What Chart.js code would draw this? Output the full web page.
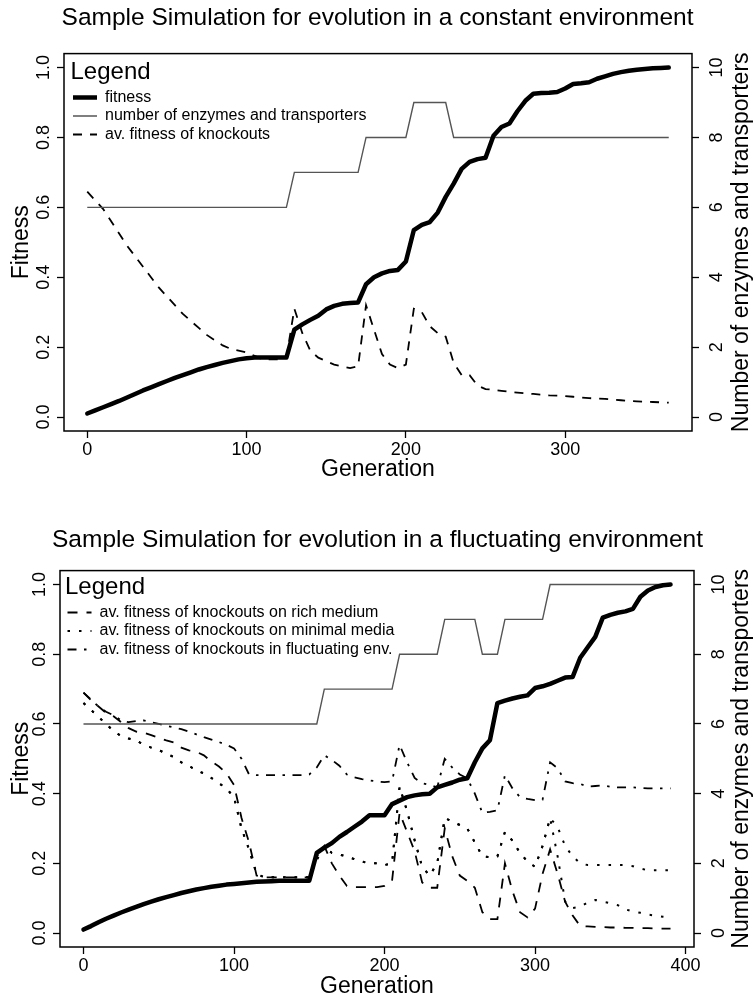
<!DOCTYPE html>
<html><head><meta charset="utf-8">
<script src="https://cdn.jsdelivr.net/npm/chart.js@4.4.0/dist/chart.umd.min.js"></script>
<style>
html,body{margin:0;padding:0;background:#fff;}
#wrap{position:relative;width:755px;height:998px;background:#fff;}
.panel{position:absolute;left:0;width:755px;height:499px;}
</style></head><body>
<div id="wrap">
<div class="panel" style="top:0"><canvas id="c1"></canvas></div>
<div class="panel" style="top:499px"><canvas id="c2"></canvas></div>
</div>
<script>
const FONT = "'Liberation Sans', Arial, Helvetica, sans-serif";

const titleTop = 'Sample Simulation for evolution in a constant environment';
const titleBottom = 'Sample Simulation for evolution in a fluctuating environment';
const xTitle = 'Generation';
const yLeftTitle = 'Fitness';
const yRightTitle = 'Number of enzymes and transporters';
const legendTitle = 'Legend';
const xTicksTop = [0, 100, 200, 300];
const xTicksBottom = [0, 100, 200, 300, 400];
const yLeftTicks = [0, 0.2, 0.4, 0.6, 0.8, 1.0];
const yRightTicks = [0, 2, 4, 6, 8, 10];

// ---------- top panel: constant environment ----------
const gensTop = [0,5,10,15,20,25,30,35,40,45,50,55,60,65,70,75,80,85,90,95,
  100,105,110,115,120,125,130,135,140,145,150,155,160,165,170,175,180,185,190,195,
  200,205,210,215,220,225,230,235,240,245,250,255,260,265,270,275,280,285,290,295,
  300,305,310,315,320,325,330,335,340,345,350,355,360,365];
const fitnessTop = [0.010,0.019,0.028,0.037,0.046,0.056,0.066,0.076,0.085,0.094,
  0.103,0.112,0.120,0.128,0.136,0.143,0.149,0.155,0.160,0.165,
  0.168,0.170,0.170,0.170,0.170,0.170,0.250,0.265,0.278,0.290,
  0.308,0.318,0.324,0.326,0.328,0.380,0.400,0.411,0.418,0.421,
  0.445,0.535,0.550,0.558,0.585,0.630,0.668,0.710,0.730,0.738,
  0.742,0.805,0.830,0.840,0.875,0.905,0.925,0.927,0.928,0.930,
  0.940,0.953,0.955,0.958,0.968,0.975,0.982,0.987,0.991,0.994,
  0.996,0.998,0.999,1.000];
const enzymesTop = [6,6,6,6,6,6,6,6,6,6,6,6,6,6,6,6,6,6,6,6,
  6,6,6,6,6,6,7,7,7,7,7,7,7,7,7,8,8,8,8,8,
  8,9,9,9,9,9,8,8,8,8,8,8,8,8,8,8,8,8,8,8,
  8,8,8,8,8,8,8,8,8,8,8,8,8,8];
const knockoutsTop = [0.645,0.620,0.595,0.560,0.525,0.490,0.460,0.430,0.400,0.370,
  0.345,0.320,0.295,0.275,0.255,0.235,0.220,0.205,0.195,0.190,
  0.185,0.175,0.165,0.165,0.165,0.170,0.310,0.240,0.190,0.170,
  0.160,0.150,0.145,0.140,0.145,0.320,0.250,0.180,0.150,0.140,
  0.150,0.310,0.300,0.260,0.240,0.230,0.155,0.120,0.120,0.090,
  0.080,0.078,0.075,0.072,0.070,0.068,0.066,0.064,0.062,0.061,
  0.060,0.058,0.056,0.054,0.053,0.052,0.050,0.048,0.046,0.045,
  0.044,0.043,0.042,0.041];

// ---------- bottom panel: fluctuating environment ----------
const gensBottom = [0,5,10,15,20,25,30,35,40,45,50,55,60,65,70,75,80,85,90,95,
  100,105,110,115,120,125,130,135,140,145,150,155,160,165,170,175,180,185,190,195,
  200,205,210,215,220,225,230,235,240,245,250,255,260,265,270,275,280,285,290,295,
  300,305,310,315,320,325,330,335,340,345,350,355,360,365,370,375,380,385,390];
const fitnessBottom = [0.010,0.020,0.031,0.041,0.050,0.059,0.067,0.075,0.083,0.090,
  0.097,0.103,0.109,0.115,0.120,0.125,0.129,0.133,0.136,0.139,
  0.141,0.143,0.145,0.147,0.148,0.149,0.150,0.150,0.150,0.150,
  0.150,0.230,0.245,0.258,0.276,0.290,0.305,0.320,0.338,0.338,
  0.338,0.370,0.380,0.390,0.395,0.398,0.400,0.418,0.425,0.432,
  0.440,0.444,0.490,0.530,0.553,0.660,0.667,0.673,0.678,0.682,
  0.703,0.708,0.715,0.724,0.733,0.735,0.790,0.820,0.850,0.905,
  0.913,0.919,0.923,0.930,0.965,0.983,0.993,0.998,1.000];
const enzymesBottom = [6,6,6,6,6,6,6,6,6,6,6,6,6,6,6,6,6,6,6,6,
  6,6,6,6,6,6,6,6,6,6,6,6,7,7,7,7,7,7,7,7,
  7,7,8,8,8,8,8,8,9,9,9,9,9,8,8,8,9,9,9,9,
  9,9,10,10,10,10,10,10,10,10,10,10,10,10,10,10,10,10,10];
const richBottom = [0.690,0.668,0.650,0.632,0.622,0.605,0.588,0.578,0.575,0.568,
  0.560,0.553,0.547,0.532,0.524,0.520,0.510,0.492,0.478,0.458,
  0.425,0.330,0.260,0.165,0.160,0.160,0.160,0.160,0.160,0.160,
  0.160,0.220,0.250,0.200,0.165,0.135,0.132,0.132,0.132,0.132,
  0.135,0.150,0.345,0.290,0.235,0.145,0.130,0.130,0.300,0.220,
  0.165,0.150,0.130,0.060,0.040,0.040,0.200,0.120,0.060,0.045,
  0.070,0.170,0.240,0.170,0.090,0.050,0.020,0.019,0.018,0.017,
  0.016,0.016,0.015,0.015,0.014,0.014,0.013,0.013,0.013];
const minimalBottom = [0.660,0.640,0.620,0.600,0.580,0.565,0.558,0.553,0.540,0.532,
  0.525,0.515,0.505,0.490,0.480,0.467,0.458,0.445,0.430,0.415,
  0.390,0.300,0.240,0.170,0.160,0.160,0.160,0.160,0.160,0.160,
  0.160,0.210,0.250,0.230,0.225,0.220,0.212,0.205,0.200,0.200,
  0.195,0.200,0.420,0.350,0.266,0.190,0.165,0.200,0.330,0.320,
  0.310,0.300,0.260,0.220,0.218,0.220,0.290,0.265,0.230,0.205,
  0.190,0.250,0.330,0.304,0.250,0.220,0.200,0.195,0.195,0.195,
  0.195,0.195,0.195,0.192,0.185,0.180,0.180,0.180,0.180];
// second dotted trace, coincident with the minimal-media trace until it splits off near gen 315
const minimalLowBottom = [0.660,0.640,0.620,0.600,0.580,0.565,0.558,0.553,0.540,0.532,
  0.525,0.515,0.505,0.490,0.480,0.467,0.458,0.445,0.430,0.415,
  0.390,0.300,0.240,0.170,0.160,0.160,0.160,0.160,0.160,0.160,
  0.160,0.210,0.250,0.230,0.225,0.220,0.212,0.205,0.200,0.200,
  0.195,0.200,0.420,0.350,0.266,0.190,0.165,0.200,0.330,0.320,
  0.310,0.300,0.260,0.220,0.218,0.220,0.290,0.265,0.230,0.205,
  0.190,0.250,0.330,0.220,0.090,0.072,0.075,0.088,0.095,0.090,
  0.086,0.080,0.068,0.062,0.058,0.053,0.050,0.047,0.045];
const fluctBottom = [0.690,0.670,0.650,0.635,0.625,0.610,0.605,0.608,0.610,0.605,
  0.600,0.595,0.590,0.585,0.578,0.570,0.562,0.555,0.548,0.540,
  0.530,0.500,0.455,0.453,0.453,0.453,0.453,0.453,0.453,0.453,
  0.455,0.475,0.510,0.497,0.480,0.455,0.447,0.442,0.438,0.435,
  0.433,0.435,0.540,0.490,0.445,0.430,0.425,0.418,0.500,0.475,
  0.455,0.444,0.400,0.345,0.348,0.352,0.453,0.415,0.390,0.385,
  0.381,0.383,0.490,0.473,0.435,0.430,0.428,0.420,0.422,0.424,
  0.420,0.418,0.418,0.418,0.416,0.415,0.415,0.415,0.415];

function pts(xs, ys) { return xs.map((x, i) => ({x: x, y: ys[i]})); }

const framePlugin = {
  id: 'frame',
  afterLayout(chart) {
    const lg = chart.legend, a = chart.chartArea, o = chart.options.plugins.frame;
    if (lg) { lg.left = a.left + o.legendDx; lg.right = lg.left + lg.width; lg.top = a.top; lg.bottom = a.bottom; }
  },
  afterDraw(chart) {
    const a = chart.chartArea, ctx = chart.ctx, o = chart.options.plugins.frame;
    ctx.save();
    ctx.strokeStyle = '#000'; ctx.lineWidth = 1.5;
    ctx.strokeRect(a.left, a.top, a.right - a.left, a.bottom - a.top);
    ctx.translate(o.rightTitleX, (a.top + a.bottom) / 2);
    ctx.rotate(-Math.PI / 2);
    ctx.fillStyle = '#000'; ctx.textAlign = 'center'; ctx.textBaseline = 'middle';
    ctx.font = '23px ' + FONT;
    ctx.fillText(o.rightTitle, 0, 0);
    ctx.restore();
  }
};

function legendLabels(chart) {
  const items = Chart.defaults.plugins.legend.labels.generateLabels(chart);
  items.forEach((it) => {
    const ds = chart.data.datasets[it.datasetIndex];
    it.lineDash = ds.borderDash || [];
    it.lineWidth = ds.borderWidth;
    it.strokeStyle = ds.borderColor;
    it.lineCap = 'butt';
  });
  return items;
}

function makeChart(id, p) {
  return new Chart(document.getElementById(id), {
    type: 'line',
    data: { datasets: p.datasets },
    plugins: [framePlugin],
    options: {
      responsive: true, maintainAspectRatio: false, animation: false,
      layout: { padding: { left: 0, right: 0, top: 0, bottom: p.padBottom } },
      elements: { point: { radius: 0 }, line: { tension: 0 } },
      plugins: {
        frame: { legendDx: p.legendDx, rightTitleX: 742, rightTitle: yRightTitle },
        tooltip: { enabled: false },
        title: { display: true, text: p.title, color: '#000',
          font: { family: FONT, size: 24.5, weight: 'normal', lineHeight: 1.2 },
          padding: { top: p.titleTop, bottom: p.titleBottom } },
        legend: {
          display: true, position: 'chartArea', align: 'start',
          title: { display: true, text: legendTitle, position: 'start', color: '#000',
            font: { family: FONT, size: 24, lineHeight: 1.1 }, padding: { top: p.legTitleTop, bottom: 0 } },
          labels: { color: '#000', font: { family: FONT, size: 16 }, padding: 2.5,
            usePointStyle: true, pointStyle: 'line', pointStyleWidth: 24,
            generateLabels: legendLabels,
            filter: (item) => p.legendSet.includes(item.datasetIndex) }
        }
      },
      scales: {
        x: { type: 'linear', position: 'bottom', min: p.xMin, max: p.xMax,
          afterBuildTicks: (s) => { s.ticks = p.xTicks.map(v => ({value: v})); },
          afterFit: (s) => { s.height = p.xAxisH; },
          grid: { display: true, drawOnChartArea: false, drawTicks: true, tickLength: 7, tickColor: '#000', tickWidth: 1.3 },
          border: { display: false },
          ticks: { color: '#000', font: { family: FONT, size: 18 }, padding: 1, minRotation: 0, maxRotation: 0, autoSkip: false,
            callback: (v) => String(v) },
          title: { display: true, text: xTitle, color: '#000', font: { family: FONT, size: 23, lineHeight: 1 }, padding: { top: 0, bottom: 0 } } },
        y: { type: 'linear', position: 'left', min: -0.04, max: 1.04,
          afterBuildTicks: (s) => { s.ticks = yLeftTicks.map(v => ({value: v})); },
          afterFit: (s) => { s.width = p.leftW; },
          grid: { display: true, drawOnChartArea: false, drawTicks: true, tickLength: 7, tickColor: '#000', tickWidth: 1.3 },
          border: { display: false },
          ticks: { color: '#000', font: { family: FONT, size: 18 }, padding: 0, minRotation: 90, maxRotation: 90, crossAlign: 'center',
            callback: (v) => Number(v).toFixed(1) },
          title: { display: true, text: yLeftTitle, color: '#000', font: { family: FONT, size: 23, lineHeight: 1 }, padding: { top: 10, bottom: 0 } } },
        y2: { type: 'linear', position: 'right', min: -0.4, max: 10.4,
          afterBuildTicks: (s) => { s.ticks = yRightTicks.map(v => ({value: v})); },
          afterFit: (s) => { s.width = p.rightW; },
          grid: { display: true, drawOnChartArea: false, drawTicks: true, tickLength: 7, tickColor: '#000', tickWidth: 1.3 },
          border: { display: false },
          ticks: { color: '#000', font: { family: FONT, size: 18 }, padding: 8, minRotation: 90, maxRotation: 90, crossAlign: 'center',
            callback: (v) => String(v) },
          title: { display: false } }
      }
    }
  });
}

const fitStyle = { borderColor: '#000', backgroundColor: '#000', borderWidth: 4.5, borderCapStyle: 'round', borderJoinStyle: 'round', yAxisID: 'y' };
const enzStyle = { borderColor: '#555', backgroundColor: '#555', borderWidth: 1.4, borderJoinStyle: 'miter', yAxisID: 'y2' };

makeChart('c1', {
  title: titleTop, titleTop: 4, titleBottom: 20.2, padBottom: 18, xAxisH: 50, leftW: 64, rightW: 63,
  xMin: -14.6, xMax: 379.6, xTicks: xTicksTop, legendDx: 6.5, legTitleTop: 7, legendSet: [0, 1, 2],
  datasets: [
    Object.assign({ label: 'fitness', data: pts(gensTop, fitnessTop) }, fitStyle),
    Object.assign({ label: 'number of enzymes and transporters', data: pts(gensTop, enzymesTop) }, enzStyle),
    { label: 'av. fitness of knockouts', data: pts(gensTop, knockoutsTop), borderColor: '#000', backgroundColor: '#000',
      borderWidth: 1.8, borderDash: [9, 8], yAxisID: 'y' }
  ]
});

makeChart('c2', {
  title: titleBottom, titleTop: 26.6, titleBottom: 15.6, padBottom: 0, xAxisH: 51, leftW: 60, rightW: 61,
  xMin: -15.6, xMax: 405.6, xTicks: xTicksBottom, legendDx: 5, legTitleTop: 5, legendSet: [2, 3, 4],
  datasets: [
    Object.assign({ label: 'fitness', data: pts(gensBottom, fitnessBottom) }, fitStyle),
    Object.assign({ label: 'number of enzymes and transporters', data: pts(gensBottom, enzymesBottom) }, enzStyle),
    { label: 'av. fitness of knockouts on rich medium', data: pts(gensBottom, richBottom), borderColor: '#000', backgroundColor: '#000',
      borderWidth: 1.8, borderDash: [10, 9], yAxisID: 'y' },
    { label: 'av. fitness of knockouts on minimal media', data: pts(gensBottom, minimalBottom), borderColor: '#000', backgroundColor: '#000',
      borderWidth: 2, borderDash: [2.5, 9], yAxisID: 'y' },
    { label: 'av. fitness of knockouts in fluctuating env.', data: pts(gensBottom, fluctBottom), borderColor: '#000', backgroundColor: '#000',
      borderWidth: 1.8, borderDash: [9, 7.5, 2.5, 7.5], yAxisID: 'y' },
    { label: '', data: pts(gensBottom, minimalLowBottom), borderColor: '#000', backgroundColor: '#000',
      borderWidth: 2, borderDash: [2.5, 9], yAxisID: 'y' }
  ]
});
</script>
</body></html>
